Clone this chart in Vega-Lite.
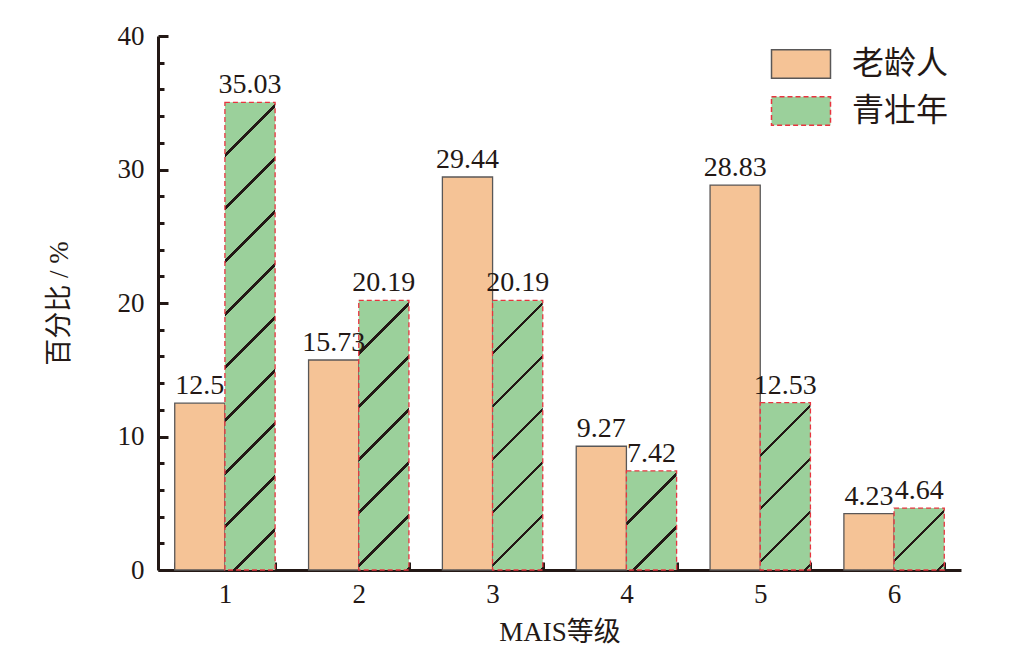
{
  "$schema": "https://vega.github.io/schema/vega-lite/v6.json",
  "width": 803,
  "height": 534,
  "autosize": {"type": "none"},
  "padding": {"left": 158, "top": 36, "right": 48, "bottom": 97},
  "background": "white",
  "config": {
    "view": {"stroke": null},
    "axis": {
      "grid": false,
      "domainColor": "#231815",
      "domainWidth": 3,
      "tickColor": "#231815",
      "tickWidth": 3,
      "labelFont": "Liberation Serif",
      "labelFontSize": 27,
      "labelColor": "#231815",
      "titleFont": "Liberation Serif, Noto Sans CJK SC",
      "titleFontSize": 27,
      "titleFontWeight": "normal",
      "titleColor": "#231815"
    }
  },
  "data": {
    "values": [
      {"level": "1", "grp": "老龄人", "pct": 12.5},
      {"level": "1", "grp": "青壮年", "pct": 35.03},
      {"level": "2", "grp": "老龄人", "pct": 15.73},
      {"level": "2", "grp": "青壮年", "pct": 20.19},
      {"level": "3", "grp": "老龄人", "pct": 29.44},
      {"level": "3", "grp": "青壮年", "pct": 20.19},
      {"level": "4", "grp": "老龄人", "pct": 9.27},
      {"level": "4", "grp": "青壮年", "pct": 7.42},
      {"level": "5", "grp": "老龄人", "pct": 28.83},
      {"level": "5", "grp": "青壮年", "pct": 12.53},
      {"level": "6", "grp": "老龄人", "pct": 4.23},
      {"level": "6", "grp": "青壮年", "pct": 4.64}
    ]
  },
  "encoding": {
    "x": {
      "field": "level",
      "type": "nominal",
      "scale": {"paddingInner": 0.25, "paddingOuter": 0.125},
      "axis": {
        "title": "MAIS等级",
        "labelAngle": 0,
        "tickBand": "extent",
        "tickSize": -8,
        "labelPadding": 19,
        "titlePadding": 12
      }
    },
    "xOffset": {
      "field": "grp",
      "type": "nominal",
      "sort": ["老龄人", "青壮年"],
      "scale": {"paddingInner": 0, "paddingOuter": 0}
    },
    "y": {
      "field": "pct",
      "type": "quantitative",
      "scale": {"domain": [0, 40], "nice": false},
      "axis": {
        "title": "百分比 / %",
        "values": [0, 2, 4, 6, 8, 10, 12, 14, 16, 18, 20, 22, 24, 26, 28, 30, 32, 34, 36, 38, 40],
        "labelExpr": "datum.value % 10 === 0 ? datum.label : ''",
        "tickSize": {"condition": {"test": "datum.value % 10 === 0", "value": -10}, "value": -6},
        "labelPadding": 24,
        "titlePadding": 44
      }
    }
  },
  "layer": [
    {
      "mark": {"type": "bar", "strokeWidth": 1.3},
      "encoding": {
        "fill": {
          "condition": {
            "test": "datum.grp === '青壮年'",
            "value": {"expr": "{gradient:'linear',x1:0,y1:0,x2:bandwidth('xOffset')*(bandwidth('xOffset')+scale('y',0)-scale('y',datum.pct))/(pow(bandwidth('xOffset'),2)+pow(scale('y',0)-scale('y',datum.pct),2)),y2:(scale('y',0)-scale('y',datum.pct))*(bandwidth('xOffset')+scale('y',0)-scale('y',datum.pct))/(pow(bandwidth('xOffset'),2)+pow(scale('y',0)-scale('y',datum.pct),2)),stops:[{offset:0,color:'#9BD09B'},{offset:clamp(51.2/(bandwidth('xOffset')+scale('y',0)-scale('y',datum.pct)),0,1),color:'#9BD09B'},{offset:clamp(51.2/(bandwidth('xOffset')+scale('y',0)-scale('y',datum.pct)),0,1),color:'#231815'},{offset:clamp(54.8/(bandwidth('xOffset')+scale('y',0)-scale('y',datum.pct)),0,1),color:'#231815'},{offset:clamp(54.8/(bandwidth('xOffset')+scale('y',0)-scale('y',datum.pct)),0,1),color:'#9BD09B'},{offset:clamp(104.2/(bandwidth('xOffset')+scale('y',0)-scale('y',datum.pct)),0,1),color:'#9BD09B'},{offset:clamp(104.2/(bandwidth('xOffset')+scale('y',0)-scale('y',datum.pct)),0,1),color:'#231815'},{offset:clamp(107.8/(bandwidth('xOffset')+scale('y',0)-scale('y',datum.pct)),0,1),color:'#231815'},{offset:clamp(107.8/(bandwidth('xOffset')+scale('y',0)-scale('y',datum.pct)),0,1),color:'#9BD09B'},{offset:clamp(157.2/(bandwidth('xOffset')+scale('y',0)-scale('y',datum.pct)),0,1),color:'#9BD09B'},{offset:clamp(157.2/(bandwidth('xOffset')+scale('y',0)-scale('y',datum.pct)),0,1),color:'#231815'},{offset:clamp(160.8/(bandwidth('xOffset')+scale('y',0)-scale('y',datum.pct)),0,1),color:'#231815'},{offset:clamp(160.8/(bandwidth('xOffset')+scale('y',0)-scale('y',datum.pct)),0,1),color:'#9BD09B'},{offset:clamp(210.2/(bandwidth('xOffset')+scale('y',0)-scale('y',datum.pct)),0,1),color:'#9BD09B'},{offset:clamp(210.2/(bandwidth('xOffset')+scale('y',0)-scale('y',datum.pct)),0,1),color:'#231815'},{offset:clamp(213.8/(bandwidth('xOffset')+scale('y',0)-scale('y',datum.pct)),0,1),color:'#231815'},{offset:clamp(213.8/(bandwidth('xOffset')+scale('y',0)-scale('y',datum.pct)),0,1),color:'#9BD09B'},{offset:clamp(263.2/(bandwidth('xOffset')+scale('y',0)-scale('y',datum.pct)),0,1),color:'#9BD09B'},{offset:clamp(263.2/(bandwidth('xOffset')+scale('y',0)-scale('y',datum.pct)),0,1),color:'#231815'},{offset:clamp(266.8/(bandwidth('xOffset')+scale('y',0)-scale('y',datum.pct)),0,1),color:'#231815'},{offset:clamp(266.8/(bandwidth('xOffset')+scale('y',0)-scale('y',datum.pct)),0,1),color:'#9BD09B'},{offset:clamp(316.2/(bandwidth('xOffset')+scale('y',0)-scale('y',datum.pct)),0,1),color:'#9BD09B'},{offset:clamp(316.2/(bandwidth('xOffset')+scale('y',0)-scale('y',datum.pct)),0,1),color:'#231815'},{offset:clamp(319.8/(bandwidth('xOffset')+scale('y',0)-scale('y',datum.pct)),0,1),color:'#231815'},{offset:clamp(319.8/(bandwidth('xOffset')+scale('y',0)-scale('y',datum.pct)),0,1),color:'#9BD09B'},{offset:clamp(369.2/(bandwidth('xOffset')+scale('y',0)-scale('y',datum.pct)),0,1),color:'#9BD09B'},{offset:clamp(369.2/(bandwidth('xOffset')+scale('y',0)-scale('y',datum.pct)),0,1),color:'#231815'},{offset:clamp(372.8/(bandwidth('xOffset')+scale('y',0)-scale('y',datum.pct)),0,1),color:'#231815'},{offset:clamp(372.8/(bandwidth('xOffset')+scale('y',0)-scale('y',datum.pct)),0,1),color:'#9BD09B'},{offset:clamp(422.2/(bandwidth('xOffset')+scale('y',0)-scale('y',datum.pct)),0,1),color:'#9BD09B'},{offset:clamp(422.2/(bandwidth('xOffset')+scale('y',0)-scale('y',datum.pct)),0,1),color:'#231815'},{offset:clamp(425.8/(bandwidth('xOffset')+scale('y',0)-scale('y',datum.pct)),0,1),color:'#231815'},{offset:clamp(425.8/(bandwidth('xOffset')+scale('y',0)-scale('y',datum.pct)),0,1),color:'#9BD09B'},{offset:clamp(475.2/(bandwidth('xOffset')+scale('y',0)-scale('y',datum.pct)),0,1),color:'#9BD09B'},{offset:clamp(475.2/(bandwidth('xOffset')+scale('y',0)-scale('y',datum.pct)),0,1),color:'#231815'},{offset:clamp(478.8/(bandwidth('xOffset')+scale('y',0)-scale('y',datum.pct)),0,1),color:'#231815'},{offset:clamp(478.8/(bandwidth('xOffset')+scale('y',0)-scale('y',datum.pct)),0,1),color:'#9BD09B'},{offset:1,color:'#9BD09B'}]}"}
          },
          "field": "grp",
          "type": "nominal",
          "sort": ["老龄人", "青壮年"],
          "scale": {"domain": ["老龄人", "青壮年"], "range": ["#F5C396", "#9BD09B"]},
          "legend": {
            "title": null,
            "orient": "top-right",
            "offset": 12,
            "padding": 0,
            "symbolType": "M-2,-0.97H2V0.97H-2Z",
            "symbolSize": 870,
            "symbolStrokeWidth": 1.5,
            "labelFont": "Noto Sans CJK SC",
            "labelFontSize": 32,
            "labelColor": "#231815",
            "labelOffset": 35,
            "rowPadding": 11,
            "encode": {
              "symbols": {
                "update": {
                  "fill": {"signal": "datum.value === '青壮年' ? {gradient:'linear',x1:0,y1:0,x2:1.2022,y2:0.5828,stops:[{offset:0,color:'#9BD09B'},{offset:0.5845,color:'#9BD09B'},{offset:0.5845,color:'#231815'},{offset:0.6255,color:'#231815'},{offset:0.6255,color:'#9BD09B'},{offset:1,color:'#9BD09B'}]} : '#F5C396'"},
                  "stroke": {"signal": "datum.value === '青壮年' ? '#E8343F' : '#595757'"},
                  "strokeDash": {"signal": "datum.value === '青壮年' ? [5, 3] : [1, 0]"},
                  "opacity": {"value": 1}
                }
              }
            }
          }
        },
        "stroke": {
          "field": "grp",
          "type": "nominal",
          "scale": {"domain": ["老龄人", "青壮年"], "range": ["#595757", "#E8343F"]},
          "legend": null
        },
        "strokeDash": {
          "field": "grp",
          "type": "nominal",
          "scale": {"domain": ["老龄人", "青壮年"], "range": [[1, 0], [5, 3]]},
          "legend": null
        }
      }
    },
    {
      "mark": {"type": "text", "dy": -9, "baseline": "alphabetic", "font": "Liberation Serif", "fontSize": 28, "color": "#231815"},
      "encoding": {
        "text": {"field": "pct", "type": "quantitative", "format": ""}
      }
    }
  ]
}
